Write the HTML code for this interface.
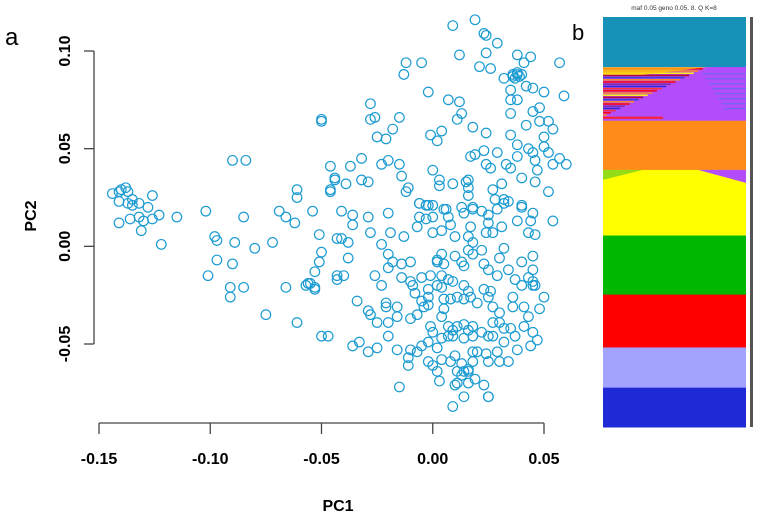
<!DOCTYPE html>
<html><head><meta charset="utf-8"><style>
html,body{margin:0;padding:0;background:#fff;}
svg{display:block;font-family:"Liberation Sans",sans-serif;}
</style></head><body>
<svg id="chart" width="762" height="523" viewBox="0 0 762 523">
<text x="5" y="45" font-size="24">a</text>
<text x="572" y="40" font-size="22">b</text>
<g id="axes"></g>
<g id="points"></g>
<text x="338" y="511" font-size="16" font-weight="bold" text-anchor="middle">PC1</text>
<text transform="translate(36,216) rotate(-90)" font-size="16" font-weight="bold" text-anchor="middle">PC2</text>
<g id="structure"></g>
<text x="674" y="10" font-size="6.5" fill="#333" text-anchor="middle">maf 0.05 geno 0.05. 8. Q   K=8</text>
</svg>
<script>
const xTicks=[-0.15,-0.10,-0.05,0.00,0.05];
const yTicks=[-0.05,0.00,0.05,0.10];
const xTickLabels=["-0.15","-0.10","-0.05","0.00","0.05"];
const yTickLabels=["-0.05","0.00","0.05","0.10"];
const pc1=[-.144,-.141,-.140,-.138,-.137,-.141,-.137,-.135,-.132,-.128,-.126,-.123,-.115,-.141,-.136,-.132,-.130,-.126,-.131,-.122,-.135,-.102,-.090,-.084,-.085,-.098,-.097,-.089,-.080,-.072,-.097,-.090,-.101,-.091,-.091,-.085,-.075,-.061,-.066,-.069,-.066,-.062,-.061,-.061,-.057,-.056,
.009,.019,.023,.024,.029,.012,.024,.038,.044,.021,.026,.041,.057,-.012,-.005,-.013,.036,.038,.032,.035,.042,.045,.050,.059,.035,.038,-.002,.007,.012,.013,.011,-.028,-.028,-.026,-.015,-.050,-.050,-.018,-.025,-.021,-.001,.002,.004,.018,.024,.035,.045,.048,.048,.052,.054,.042,.035,.050,.038,.050,.043,.045,.052,.038,.029,.023,.017,.019,.046,.047,.057,.060,.054,.033,.035,.024,.026,.040,.046,.052,.031,.027,.028,.032,.034,.000,.003,.003,.009,.015,.016,.016,.016,-.015,-.014,-.020,-.023,-.032,-.037,-.046,-.044,-.044,-.039,-.032,-.029,-.011,-.012,-.046,-.046,-.006,-.003,.000,.006,.013,.018,.040,
.038,.037,.039,.040,.036,
-.054,-.041,-.036,-.036,-.029,-.020,-.006,-.002,-.006,-.007,-.003,.000,.005,.007,.008,.004,.000,.014,.018,.022,.025,.029,.032,.040,.045,.054,.038,.044,.043,.046,.025,.031,.027,.024,.017,.016,.010,-.051,-.043,-.041,-.038,-.028,-.019,-.013,-.023,-.050,-.051,-.053,-.055,-.053,-.038,-.043,-.043,-.040,-.026,-.023,-.020,-.018,-.014,-.010,-.020,-.014,-.010,-.009,-.034,-.029,-.028,-.025,-.021,-.021,-.020,-.016,-.016,-.010,-.007,-.005,-.002,-.002,-.002,.002,.002,.004,.005,.004,.007,.010,.013,.014,.016,.018,.018,.022,.023,.025,.029,.030,.032,.034,.037,.040,.045,.045,.043,.046,.050,.048,.040,.036,.036,.041,.043,.041,.045,.047,.044,.037,.038,.035,.032,.029,.034,.030,.025,.024,.022,.025,.027,.030,.030,.027,.025,.023,.026,.020,.017,.014,.011,.008,.005,.005,.004,.007,.009,.011,.014,.016,.018,.018,.014,.009,.007,.004,.000,-.001,-.002,-.005,-.007,-.010,.002,.008,.010,.013,.014,.016,.018,.018,.020,.016,.013,.010,.011,.016,.019,.023,.025,.025,.014,.009,.011,.003,.002,-.002,.000,.004,-.011,-.011,-.015,-.016,-.025,-.029,-.033,-.020,-.036,-.047,-.050,-.053,.004,.009,.016,.014,.027,.032,.045,-.008,-.004,-.005,-.001,.002,.045,.031];
const pc2=[.027,.028,.029,.030,.028,.023,.022,.024,.022,.020,.026,.016,.015,.012,.014,.015,.013,.014,.008,.001,.021,.018,.044,.044,.015,.005,.003,.002,-.001,.002,-.007,-.009,-.015,-.021,-.026,-.021,-.035,-.039,-.021,.018,.015,.012,.029,.025,-.020,-.019,
.113,.116,.109,.108,.104,.098,.099,.098,.097,.092,.091,.094,.094,.094,.094,.088,.087,.088,.086,.080,.082,.081,.079,.077,.075,.075,.079,.075,.074,.068,.065,.073,.065,.066,.066,.065,.064,.060,.056,.055,.057,.054,.059,.061,.058,.068,.069,.071,.064,.064,.060,.062,.057,.056,.052,.051,.050,.048,.048,.046,.048,.049,.046,.047,.044,.039,.045,.042,.042,.042,.040,.042,.040,.035,.033,.028,.032,.029,.024,.024,.023,.039,.034,.031,.032,.033,.034,.030,.026,.042,.036,.044,.042,.045,.041,.041,.035,.034,.032,.034,.033,.030,.028,.029,.028,.022,.021,.021,.019,.020,.020,.021,
.089,.086,.087,.088,.088,
.018,.018,.016,.011,.015,.017,.022,.021,.015,.010,.014,.015,.019,.015,.011,.008,.007,.017,.019,.018,.016,.019,.022,.020,.017,.013,.013,.013,.007,.006,.012,.010,.007,.007,.010,.005,.005,.006,.004,.004,.002,.007,.007,.005,.001,-.003,-.008,-.013,-.019,-.021,-.006,-.015,-.017,-.015,-.015,-.020,-.004,-.008,-.009,-.008,-.011,-.016,-.018,-.020,-.028,-.033,-.035,-.039,-.029,-.031,-.039,-.031,-.036,-.037,-.035,-.028,-.030,-.026,-.022,-.020,-.007,-.004,-.009,-.015,-.017,-.005,-.008,-.010,-.002,.002,-.004,-.002,-.009,-.012,-.015,-.006,-.001,-.012,-.017,-.008,-.005,-.012,-.016,-.020,-.026,-.032,-.020,-.026,-.031,-.031,-.036,-.041,-.044,-.048,-.051,-.046,-.053,-.042,-.049,-.054,-.059,-.059,-.059,-.055,-.044,-.046,-.039,-.039,-.034,-.031,-.026,-.022,-.023,-.029,-.026,-.027,-.026,-.027,-.027,-.032,-.036,-.041,-.043,-.041,-.040,-.043,-.041,-.046,-.047,-.046,-.046,-.047,-.044,-.041,-.049,-.051,-.054,-.053,-.052,-.059,-.056,-.060,-.064,-.063,-.059,-.054,-.054,-.064,-.066,-.071,-.070,-.070,-.068,-.071,-.077,-.077,-.077,-.082,-.064,-.069,-.064,-.059,-.061,-.058,-.061,-.057,-.072,-.053,-.052,-.054,-.049,-.046,-.051,-.046,-.046,-.022,-.021,-.018,-.023,-.020,-.046,-.042,-.018,-.024,-.031,-.016,-.015,-.008,-.020];
const bandColors=["#1791b8","#b34dfb","#ff8c1a","#ffff00","#00b800","#ff0000","#a3a3ff","#1f2ad6"];
const bandStarts=[0,0.122,0.253,0.373,0.533,0.677,0.806,0.904];
const NS="http://www.w3.org/2000/svg";
const X0=99,X1=544,Y0=344,Y1=51;
function sx(v){return X0+(v-(-0.15))/(0.05-(-0.15))*(X1-X0);}
function sy(v){return Y0+(v-(-0.05))/(0.10-(-0.05))*(Y1-Y0);}
function mk(tag,attrs,parent){const e=document.createElementNS(NS,tag);for(const k in attrs)e.setAttribute(k,attrs[k]);parent.appendChild(e);return e;}
const axes=document.getElementById('axes');
let l=mk('line',{x1:sx(xTicks[0]),x2:sx(xTicks[xTicks.length-1]),y1:423,y2:423,stroke:'#444','stroke-width':1.3},axes);


xTicks.forEach((t,i)=>{
 const tk=mk('line',{x1:sx(t),x2:sx(t),y1:423,y2:434,stroke:'#444','stroke-width':1.3},axes);
 
 
 const tx=mk('text',{x:sx(t),y:464,'font-size':16,'font-weight':'bold','text-anchor':'middle'},axes);
 tx.textContent=xTickLabels[i];
 
 
});
l=mk('line',{x1:94,x2:94,y1:sy(yTicks[0]),y2:sy(yTicks[yTicks.length-1]),stroke:'#444','stroke-width':1.3},axes);


yTicks.forEach((t,i)=>{
 const tk=mk('line',{x1:84,x2:94,y1:sy(t),y2:sy(t),stroke:'#444','stroke-width':1.3},axes);
 
 
 const tx=mk('text',{transform:`translate(70,${sy(t)}) rotate(-90)`,'font-size':16,'font-weight':'bold','text-anchor':'middle'},axes);
 tx.textContent=yTickLabels[i];
 
 
});
const pts=document.getElementById('points');
pc1.forEach((v,i)=>{
 if(pc2[i]===undefined)return;
 const c=mk('circle',{cx:sx(v),cy:sy(pc2[i]),r:4.8,fill:'none',stroke:'#1b9bd1','stroke-width':1.2},pts);
 
 
});
const st=document.getElementById('structure');
const BX=603,BW=143,BT=17,BH=410;
bandStarts.forEach((s,i)=>{
 const e=(i+1<bandStarts.length?bandStarts[i+1]:1);
 const r=mk('rect',{x:BX,y:BT+s*BH,width:BW,height:(e-s)*BH+0.5,fill:bandColors[i]},st);
 
 
});
// admixed stripes in purple cluster
const mixCols=["#ff0000","#ff8c1a","#ffff00","#b2002a","#2a40d8","#ff8c1a","#ff0000","#7b2fa0","#1f2ad6","#ff3020"];
for(let k=0;k<22;k++){
 const y=BT+bandStarts[1]*BH+1+k*2.2;
 const w=Math.max(4,100-k*4.6);
 const s=mk('rect',{x:BX,y:y,width:w,height:1.6,fill:mixCols[k%mixCols.length],opacity:0.9},st);
 
 
}
const yt=mk('polygon',{points:`${BX},${BT+bandStarts[1]*BH} ${BX+105},${BT+bandStarts[1]*BH} ${BX+40},${BT+bandStarts[1]*BH+8} ${BX},${BT+bandStarts[1]*BH+8}`,fill:'#ffd000',opacity:0.7},st);


for(let k=0;k<8;k++){
 const s=mk('rect',{x:BX+100+k*3,y:BT+bandStarts[1]*BH+6+k*5,width:BW-100-k*3,height:1.3,fill:'#5a6ee8',opacity:0.7},st);
 
 
}
const rr=mk('rect',{x:BX,y:BT+bandStarts[2]*BH-4,width:60,height:2,fill:'#ff2020'},st);


const yp=mk('polygon',{points:`${BX+95},${BT+bandStarts[3]*BH} ${BX+BW},${BT+bandStarts[3]*BH} ${BX+BW},${BT+bandStarts[3]*BH+13}`,fill:'#b34dfb'},st);


const ym=mk('polygon',{points:`${BX},${BT+bandStarts[3]*BH} ${BX+40},${BT+bandStarts[3]*BH} ${BX},${BT+bandStarts[3]*BH+10}`,fill:'#66cc22',opacity:0.7},st);


const vb=mk('rect',{x:750,y:BT,width:3,height:BH,fill:'#555'},st);


</script>
</body></html>
